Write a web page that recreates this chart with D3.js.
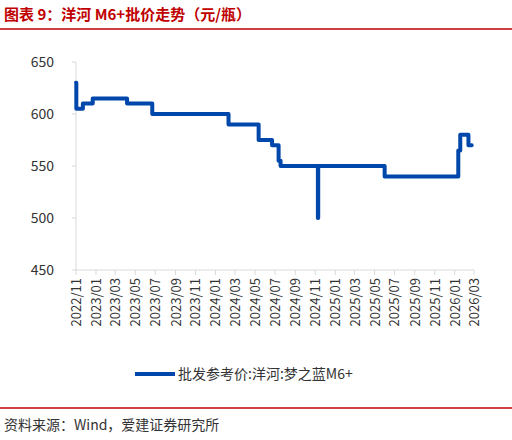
<!DOCTYPE html><html><head><meta charset="utf-8"><script src="https://cdn.jsdelivr.net/npm/d3@7"></script>
<style>body{margin:0;background:#fff}text{font-family:"Noto Sans CJK SC","Noto Sans",sans-serif}</style></head><body>
<svg id="c" width="512" height="440"></svg>
<script>
const dates=["2022-11-01","2022-11-02","2022-11-22","2022-12-22","2023-04-06","2023-06-22","2024-02-10","2024-05-12","2024-06-22","2024-07-12","2024-07-18","2024-11-09","2024-11-10","2025-06-01","2026-01-12","2026-01-18","2026-02-12","2026-02-22"];
const values=[630,605,610,615,610,600,590,575,570,555,550,500,550,540,565,580,570,570];
const tickLabels=["2022/11","2023/01","2023/03","2023/07","2023/09","2023/11","2024/01","2024/03","2024/05","2024/07","2024/09","2024/11","2025/01","2025/03","2025/05","2025/07","2025/09","2025/11","2026/01","2026/03"];
const yTicks=[450,500,550,600,650];
const svg=d3.select("#c");
const p=d3.timeParse("%Y-%m-%d");
const data=dates.map((d,i)=>({d:p(d),v:values[i]}));
const x=d3.scaleTime().domain([p("2022-11-01"),p("2026-03-01")]).range([76,474]);
const y=d3.scaleLinear().domain([450,650]).range([270,62]);
svg.append("text").attr("x",4).attr("y",20).attr("font-size",15).attr("font-weight","bold").attr("fill","#c00000").text("图表 9：洋河 M6+批价走势（元/瓶）");
svg.append("line").attr("x1",0).attr("x2",512).attr("y1",29).attr("y2",29).attr("stroke","#c00000").attr("stroke-width",1.5);
svg.append("line").attr("x1",76).attr("x2",76).attr("y1",62).attr("y2",270).attr("stroke","#d9d9d9");
svg.append("line").attr("x1",76).attr("x2",474).attr("y1",270).attr("y2",270).attr("stroke","#d9d9d9");
yTicks.forEach(t=>{svg.append("line").attr("x1",72).attr("x2",76).attr("y1",y(t)).attr("y2",y(t)).attr("stroke","#d9d9d9");
svg.append("text").attr("x",54).attr("y",y(t)+5).attr("text-anchor","end").attr("font-size",14).attr("fill","#333").text(t);});
const allT=d3.range(0,21).map(i=>d3.timeMonth.offset(p("2022-11-01"),2*i));
const tl=["2022/11","2023/01","2023/03","2023/05","2023/07","2023/09","2023/11","2024/01","2024/03","2024/05","2024/07","2024/09","2024/11","2025/01","2025/03","2025/05","2025/07","2025/09","2025/11","2026/01","2026/03"];
const fmt=d3.timeFormat("%Y/%m");
allT.forEach(t=>{const xx=x(t);svg.append("line").attr("x1",xx).attr("x2",xx).attr("y1",270).attr("y2",275).attr("stroke","#d9d9d9");
svg.append("text").attr("transform",`translate(${xx+5},278) rotate(-90)`).attr("text-anchor","end").attr("font-size",13).attr("fill","#333").text(fmt(t));});
svg.append("path").datum(data).attr("fill","none").attr("stroke","#0047ab").attr("stroke-width",4).attr("stroke-linejoin","round").attr("stroke-linecap","round")
.attr("d",d3.line().x(d=>x(d.d)).y(d=>y(d.v)).curve(d3.curveStepAfter));
svg.append("line").attr("x1",135).attr("x2",175).attr("y1",374).attr("y2",374).attr("stroke","#0047ab").attr("stroke-width",4);
svg.append("text").attr("x",178).attr("y",379).attr("font-size",14).attr("fill","#333").text("批发参考价:洋河:梦之蓝M6+");
svg.append("line").attr("x1",0).attr("x2",512).attr("y1",408).attr("y2",408).attr("stroke","#c00000").attr("stroke-width",1.5);
svg.append("text").attr("x",4).attr("y",430).attr("font-size",14).attr("fill","#333").text("资料来源：Wind，爱建证券研究所");
</script></body></html>
